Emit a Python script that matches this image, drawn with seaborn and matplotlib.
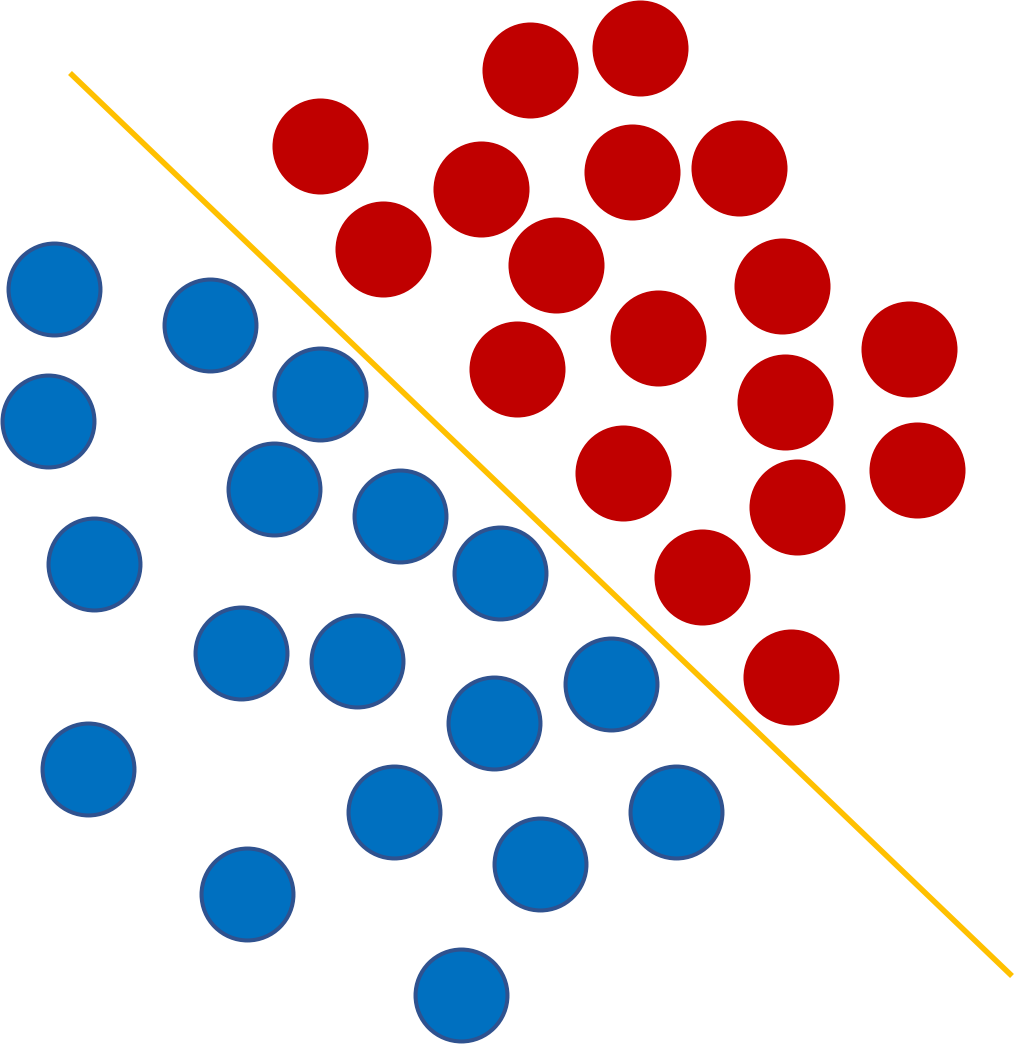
import numpy as np
import pandas as pd
import seaborn as sns
from matplotlib import pyplot as plt

# circle centres (pixel coords, y pointing down)
red_x = [530, 640, 320, 481, 632, 739, 383, 556, 782, 658, 517, 909, 785, 623, 917, 797, 702, 791]
red_y = [70, 48, 146, 189, 172, 168, 249, 265, 286, 338, 369, 349, 402, 473, 470, 507, 577, 677]

blue_x = [54, 210, 320, 48, 274, 400, 94, 500, 241, 357, 611, 494, 88, 394, 676, 540, 247, 461]
blue_y = [289, 325, 394, 421, 489, 516, 564, 573, 653, 661, 684, 723, 769, 812, 812, 864, 894, 995]

# separating line
line_x = [70, 1012]
line_y = [73, 976]

red = pd.DataFrame({"x": red_x, "y": red_y})
blue = pd.DataFrame({"x": blue_x, "y": blue_y})

sns.set_style("white")
fig = plt.figure(figsize=(10.16, 10.44), dpi=100)
ax = fig.add_axes([0, 0, 1, 1])

sns.lineplot(x=line_x, y=line_y, ax=ax, color="#FFC000", linewidth=4.0,
             solid_capstyle="butt", sort=False)
sns.scatterplot(data=red, x="x", y="y", ax=ax, s=4780, color="#C00000",
                linewidth=0, zorder=3)
sns.scatterplot(data=blue, x="x", y="y", ax=ax, s=4380, color="#0070C0",
                edgecolor="#2F528F", linewidth=2.9, zorder=3)

ax.set_xlim(0, 1016)
ax.set_ylim(1044, 0)
ax.set_axis_off()

fig.savefig("out.png", dpi=100)
